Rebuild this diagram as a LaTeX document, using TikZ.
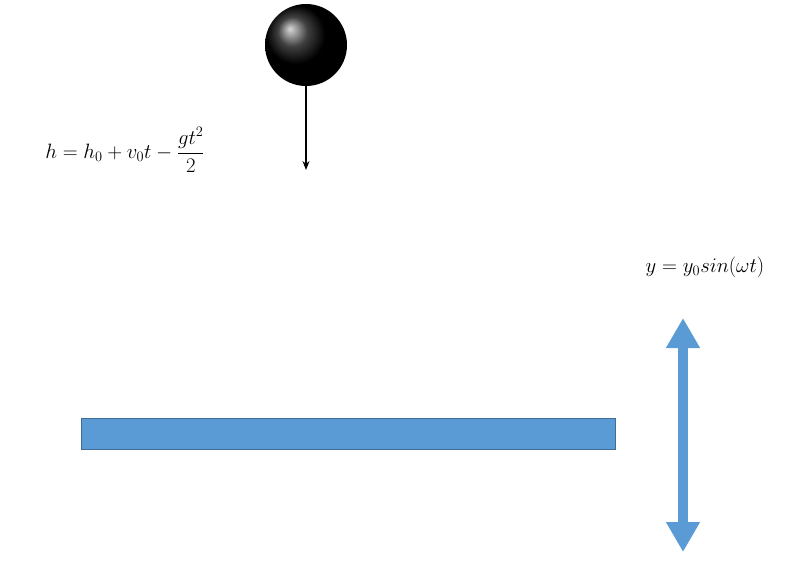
\documentclass[tikz,border=0pt]{standalone}
\usetikzlibrary{arrows.meta}
\definecolor{barblue}{HTML}{5B9BD5}
\begin{document}
\begin{tikzpicture}[x=1pt,y=-1pt,
  eq/.style={font=\fontsize{21}{25}\selectfont, inner sep=0pt}]
\useasboundingbox (0,0) rectangle (799,585);
\shade[ball color=black] (306,45) circle (41);
\node[circle, minimum size=82pt, inner sep=0pt] (ball) at (306,45) {};
\coordinate (fall) at (306,170);
\draw[-{Stealth[length=9pt,width=7pt]}, line width=1.2pt] (ball.south) -- (fall);
\node[eq] (heq) at (125,150) {$\displaystyle h = h_0 + v_0 t - \frac{g t^2}{2}$};
\node[draw=barblue!70!black, fill=barblue, minimum width=534pt, minimum height=31pt, inner sep=0pt] (bar) at (348,433.5) {};
\coordinate (top) at (683,318);
\coordinate (bot) at (683,552);
\draw[barblue, line width=10pt, {Triangle[length=30pt,width=32pt]}-{Triangle[length=30pt,width=32pt]}] (top) -- (bot);
\node[eq] (yeq) at (705,267) {$y = y_0 sin(\omega t)$};
\end{tikzpicture}
\end{document}
